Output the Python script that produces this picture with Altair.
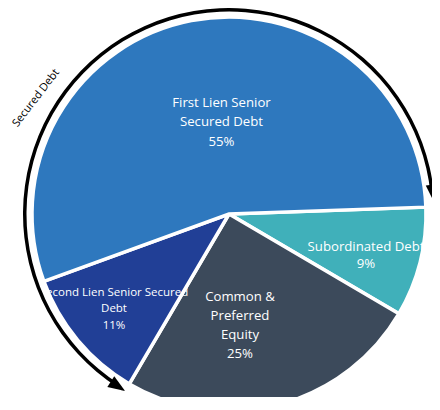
import math
import altair as alt
import pandas as pd

# ---- data ----
categories = ["Subordinated Debt", "Common & Preferred Equity",
              "Second Lien Senior Secured Debt", "First Lien Senior Secured Debt"]
labels = ["Subordinated Debt\n9%", "Common &\nPreferred\nEquity\n25%",
          "Second Lien Senior Secured\nDebt\n11%", "First Lien Senior\nSecured Debt\n55%"]
shares = [9, 25, 11, 55]
orders = [0, 1, 2, 3]
colors = ["#40B0BA", "#3C4A5B", "#213F96", "#2E78BE"]
secured = ["Second Lien Senior Secured Debt", "First Lien Senior Secured Debt"]
annotation = "Secured Debt"

df = pd.DataFrame({"category": categories, "share": shares, "label": labels, "ord": orders})

# ---- layout (svg kept inside the page so nothing is rescaled) ----
PAD_L, PAD_T = 18, 23
W, H = 406, 366
CX, CY = W / 2, H / 2            # view centre
OX, OY = 8 + PAD_L, 8 + PAD_T    # view origin on the page
START = math.radians(88.0)
TOTAL = sum(shares)

theta_scale = alt.Scale(domain=[0, TOTAL], range=[START, START + 2 * math.pi])
color = alt.Color("category:N", scale=alt.Scale(domain=categories, range=colors), legend=None)

base = alt.Chart(df)

pie = base.mark_arc(radius=197, stroke="white", strokeWidth=3.5).encode(
    theta=alt.Theta("share:Q", stack=True, scale=theta_scale),
    color=color,
    order=alt.Order("ord:Q"),
)

def polar(t, r):
    return CX + r * math.sin(t), CY - r * math.cos(t)

# label placement: target of first-line baseline (page px), font size, line height
label_style = {
    "First Lien Senior Secured Debt": ((221.5, 106.5), 13.2, 19.7),
    "Subordinated Debt": ((366.0, 250.5), 13.2, 17.8),
    "Common & Preferred Equity": ((240.0, 300.5), 13.2, 19.0),
    "Second Lien Senior Secured Debt": ((114.0, 296.0), 11.5, 16.4),
}
label_layers = []
for cat, ((tx, ty), fs, lh) in label_style.items():
    i = categories.index(cat)
    mid = START + 2 * math.pi * (sum(shares[:i]) + shares[i] / 2) / TOTAL
    vx, vy = tx - OX, ty - OY
    r = math.hypot(vx - CX, vy - CY)
    px, py = polar(mid, r)
    lay = base.transform_window(
        cum="sum(share)", sort=[alt.SortField("ord")]
    ).transform_calculate(
        mid="datum.cum - datum.share / 2"
    ).transform_filter(
        alt.datum.category == cat
    ).mark_text(
        radius=r, dx=vx - px, dy=vy - py, fontSize=fs, lineHeight=lh, lineBreak="\n",
        color="white", font="Open Sans", align="center", baseline="alphabetic",
    ).encode(
        theta=alt.Theta("mid:Q", stack=None, scale=theta_scale),
        text="label:N",
    )
    label_layers.append(lay)

# secured debt span, derived from the shares
idx0 = categories.index(secured[0])
sec_start = START + 2 * math.pi * sum(shares[:idx0]) / TOTAL
sec_end = START + 2 * math.pi * sum(shares[: idx0 + len(secured)]) / TOTAL
head1 = sec_start + math.radians(2.4)   # lower-left arrow head
head2 = sec_end - math.radians(3.8)     # right arrow head

one = alt.Chart(pd.DataFrame({"k": [0]}))
ring = one.mark_arc(color="black").encode(
    theta=alt.value(head1), theta2=alt.value(head2),
    radius=alt.value(206), radius2=alt.value(202.5),
)

TRI = "M-0.75,-1L0.75,-1L0,1Z"
heads = []
for t, r, ang in [(head1, 205, math.degrees(head1) + 90), (head2, 205, math.degrees(head2) - 90)]:
    px, py = polar(t, r)
    heads.append(one.mark_point(shape=TRI, filled=True, color="black", opacity=1,
                                size=290, angle=ang % 360, strokeWidth=0).encode(
        x=alt.value(px), y=alt.value(py)))

lx, ly = polar(math.radians(301.0), 225)
sec_label = one.mark_text(text=annotation, angle=307.5, fontSize=11, font="Open Sans",
                          color="black", align="center", baseline="middle").encode(
    x=alt.value(lx), y=alt.value(ly))

chart = alt.layer(pie, *label_layers, ring, *heads, sec_label).properties(
    width=W, height=H,
    padding={"left": PAD_L, "top": PAD_T, "right": 0, "bottom": 0},
    autosize=alt.AutoSizeParams(type="none"),
    background="white",
).configure_view(stroke=None)

chart.save("out.html", embed_options={"renderer": "svg", "actions": False})
